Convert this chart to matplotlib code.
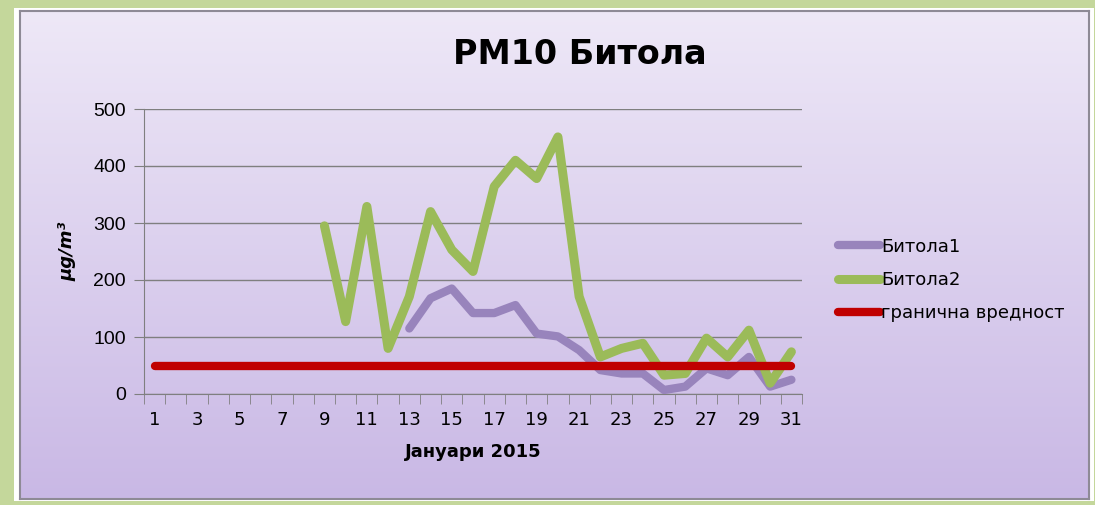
import numpy as np
import matplotlib
matplotlib.use("Agg")
import matplotlib.pyplot as plt
from matplotlib.patches import Rectangle

# ------------------- data -------------------
days = list(range(1, 32))
bitola1_days = list(range(13, 32))
bitola1 = [115, 168, 185, 142, 142, 156, 106, 101, 77, 42, 36, 36, 7, 13, 45, 33, 65, 13, 25]
bitola2_days = list(range(9, 32))
bitola2 = [295, 127, 329, 80, 171, 320, 253, 215, 364, 410, 378, 451, 171, 65, 80, 89,
           33, 36, 98, 65, 112, 19, 74]
limit_value = 50
limit = [limit_value] * len(days)

tick_days = list(range(1, 32, 2))
yticks = [0, 100, 200, 300, 400, 500]

# ------------------- figure -------------------
W, H = 1095, 505
fig = plt.figure(figsize=(W / 100, H / 100), dpi=100)
fig.patch.set_facecolor('#C4D79B')

# white strip + panel with lavender gradient
fig.patches.append(Rectangle((14 / W, 4 / H), 1080 / W, 493 / H, transform=fig.transFigure,
                             facecolor='white', edgecolor='none', zorder=-5))
bg = fig.add_axes([20 / W, 6 / H, 1069 / W, 488 / H], zorder=0)
top = np.array([238, 232, 247]) / 255
bot = np.array([201, 184, 229]) / 255
t = np.linspace(0, 1, 256)[:, None]
grad = (top[None, :] * (1 - t) + bot[None, :] * t)[:, None, :]
bg.imshow(grad, aspect='auto', extent=[0, 1, 0, 1])
bg.set_xticks([])
bg.set_yticks([])
for s in bg.spines.values():
    s.set_color('#8E8A96')
    s.set_linewidth(1.5)

ax = fig.add_axes([144 / W, (505 - 394) / H, 658 / W, 285 / H], zorder=1)
ax.patch.set_alpha(0)

ax.plot(bitola1_days, bitola1, color='#9884BC', lw=6, solid_capstyle='round',
        solid_joinstyle='round', label='Битола1', zorder=3)
ax.plot(bitola2_days, bitola2, color='#9BBB59', lw=6.5, solid_capstyle='round',
        solid_joinstyle='round', label='Битола2', zorder=4)
ax.plot(days, limit, color='#C00000', lw=6, solid_capstyle='round',
        label='гранична вредност', zorder=5)

ax.set_xlim(0.5, 31.5)
ax.set_ylim(0, 500)
ax.set_yticks(yticks)
ax.set_yticklabels([str(v) for v in yticks], fontsize=14, family='Liberation Sans')
ax.set_xticks(tick_days)
ax.set_xticklabels([str(d) for d in tick_days], fontsize=13, family='DejaVu Sans')
ax.set_xticks(np.arange(0.5, 32, 1), minor=True)
ax.tick_params(axis='x', which='major', length=0, pad=12)
ax.tick_params(axis='x', which='minor', length=7, color='#7F7F7F', direction='out')
ax.tick_params(axis='y', length=7, color='#7F7F7F', pad=6)
ax.grid(axis='y', color='#7F7F7F', lw=1)
ax.set_axisbelow(True)
for side in ['top', 'right']:
    ax.spines[side].set_visible(False)
for side in ['left', 'bottom']:
    ax.spines[side].set_color('#7F7F7F')

ax.set_xlabel('Јануари 2015', fontsize=13, fontweight='bold', labelpad=10)
ax.set_ylabel('µg/m³', fontsize=13, fontweight='bold', style='italic', labelpad=12)

fig.text(580 / W, 1 - 55 / H, 'PM10 Битола', ha='center', va='center',
         fontsize=24, fontweight='bold')

ax.legend(loc='center left', bbox_to_anchor=(1.03, 0.40), frameon=False, fontsize=13,
          handlelength=2.3, handletextpad=0.1, labelspacing=0.85)

fig.savefig('out.png', dpi=100, facecolor=fig.get_facecolor())
